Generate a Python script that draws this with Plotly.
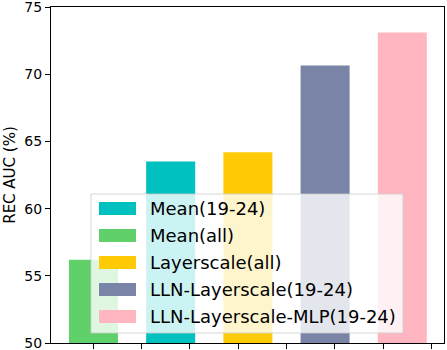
import plotly.graph_objects as go

# Data (bar order left -> right)
categories = ["Mean(all)", "Mean(19-24)", "Layerscale(all)", "LLN-Layerscale(19-24)", "LLN-Layerscale-MLP(19-24)"]
values = [56.2, 63.5, 64.2, 70.65, 73.1]
colors = ["#60D06A", "#00C0C0", "#FFCB07", "#7A84A6", "#FFB6C1"]
legend_order = ["Mean(19-24)", "Mean(all)", "Layerscale(all)", "LLN-Layerscale(19-24)", "LLN-Layerscale-MLP(19-24)"]
y_ticks = [50, 55, 60, 65, 70, 75]
x_ticks = [k * 0.625 for k in range(8)]

W, H = 447, 350
ML, MR, MT, MB = 51, 3, 7, 7
PW, PH = W - ML - MR, H - MT - MB

def px(x):
    return (x - ML) / PW

def py(y):
    return (H - MB - y) / PH

fig = go.Figure()
fig.add_trace(go.Bar(
    x=list(range(len(categories))),
    y=values,
    width=0.635,
    marker=dict(color=colors, line=dict(width=0)),
    showlegend=False,
    hoverinfo="skip",
))

shapes = []
annotations = []
# legend box
shapes.append(dict(type="rect", xref="paper", yref="paper",
                   x0=px(91), x1=px(403), y0=py(333), y1=py(194),
                   fillcolor="rgba(255,255,255,0.8)",
                   line=dict(color="rgba(204,204,204,0.8)", width=1), layer="above"))
color_map = dict(zip(categories, colors))
row0, dy = 208.5, 27
for i, name in enumerate(legend_order):
    cy = row0 + i * dy
    shapes.append(dict(type="rect", xref="paper", yref="paper",
                       x0=px(99), x1=px(136), y0=py(cy + 6.5), y1=py(cy - 6.5),
                       fillcolor=color_map[name], line=dict(width=0), layer="above"))
    annotations.append(dict(xref="paper", yref="paper", x=px(149), y=py(cy),
                            text=name, showarrow=False, xanchor="left", yanchor="middle",
                            borderpad=0,
                            font=dict(family="DejaVu Sans", size=18, color="#000000")))

fig.update_layout(
    width=W, height=H,
    margin=dict(l=ML, r=MR, t=MT, b=MB),
    paper_bgcolor="white", plot_bgcolor="white",
    font=dict(family="DejaVu Sans", color="black"),
    shapes=shapes, annotations=annotations,
    xaxis=dict(range=[-0.55, 4.54], tickvals=x_ticks, showticklabels=False, automargin=False,
               ticks="outside", ticklen=5, tickcolor="black", showgrid=False,
               zeroline=False, showline=True, linecolor="black", linewidth=1, mirror=True),
    yaxis=dict(range=[50, 75], tickvals=y_ticks, ticks="outside", ticklen=5, automargin=False,
               tickcolor="black", showgrid=False, zeroline=False, showline=True,
               linecolor="black", linewidth=1, mirror=True, ticklabeloverflow="allow",
               tickfont=dict(size=14), title=dict(text="REC AUC (%)", font=dict(size=15), standoff=5)),
)

fig.write_html("out.html")
